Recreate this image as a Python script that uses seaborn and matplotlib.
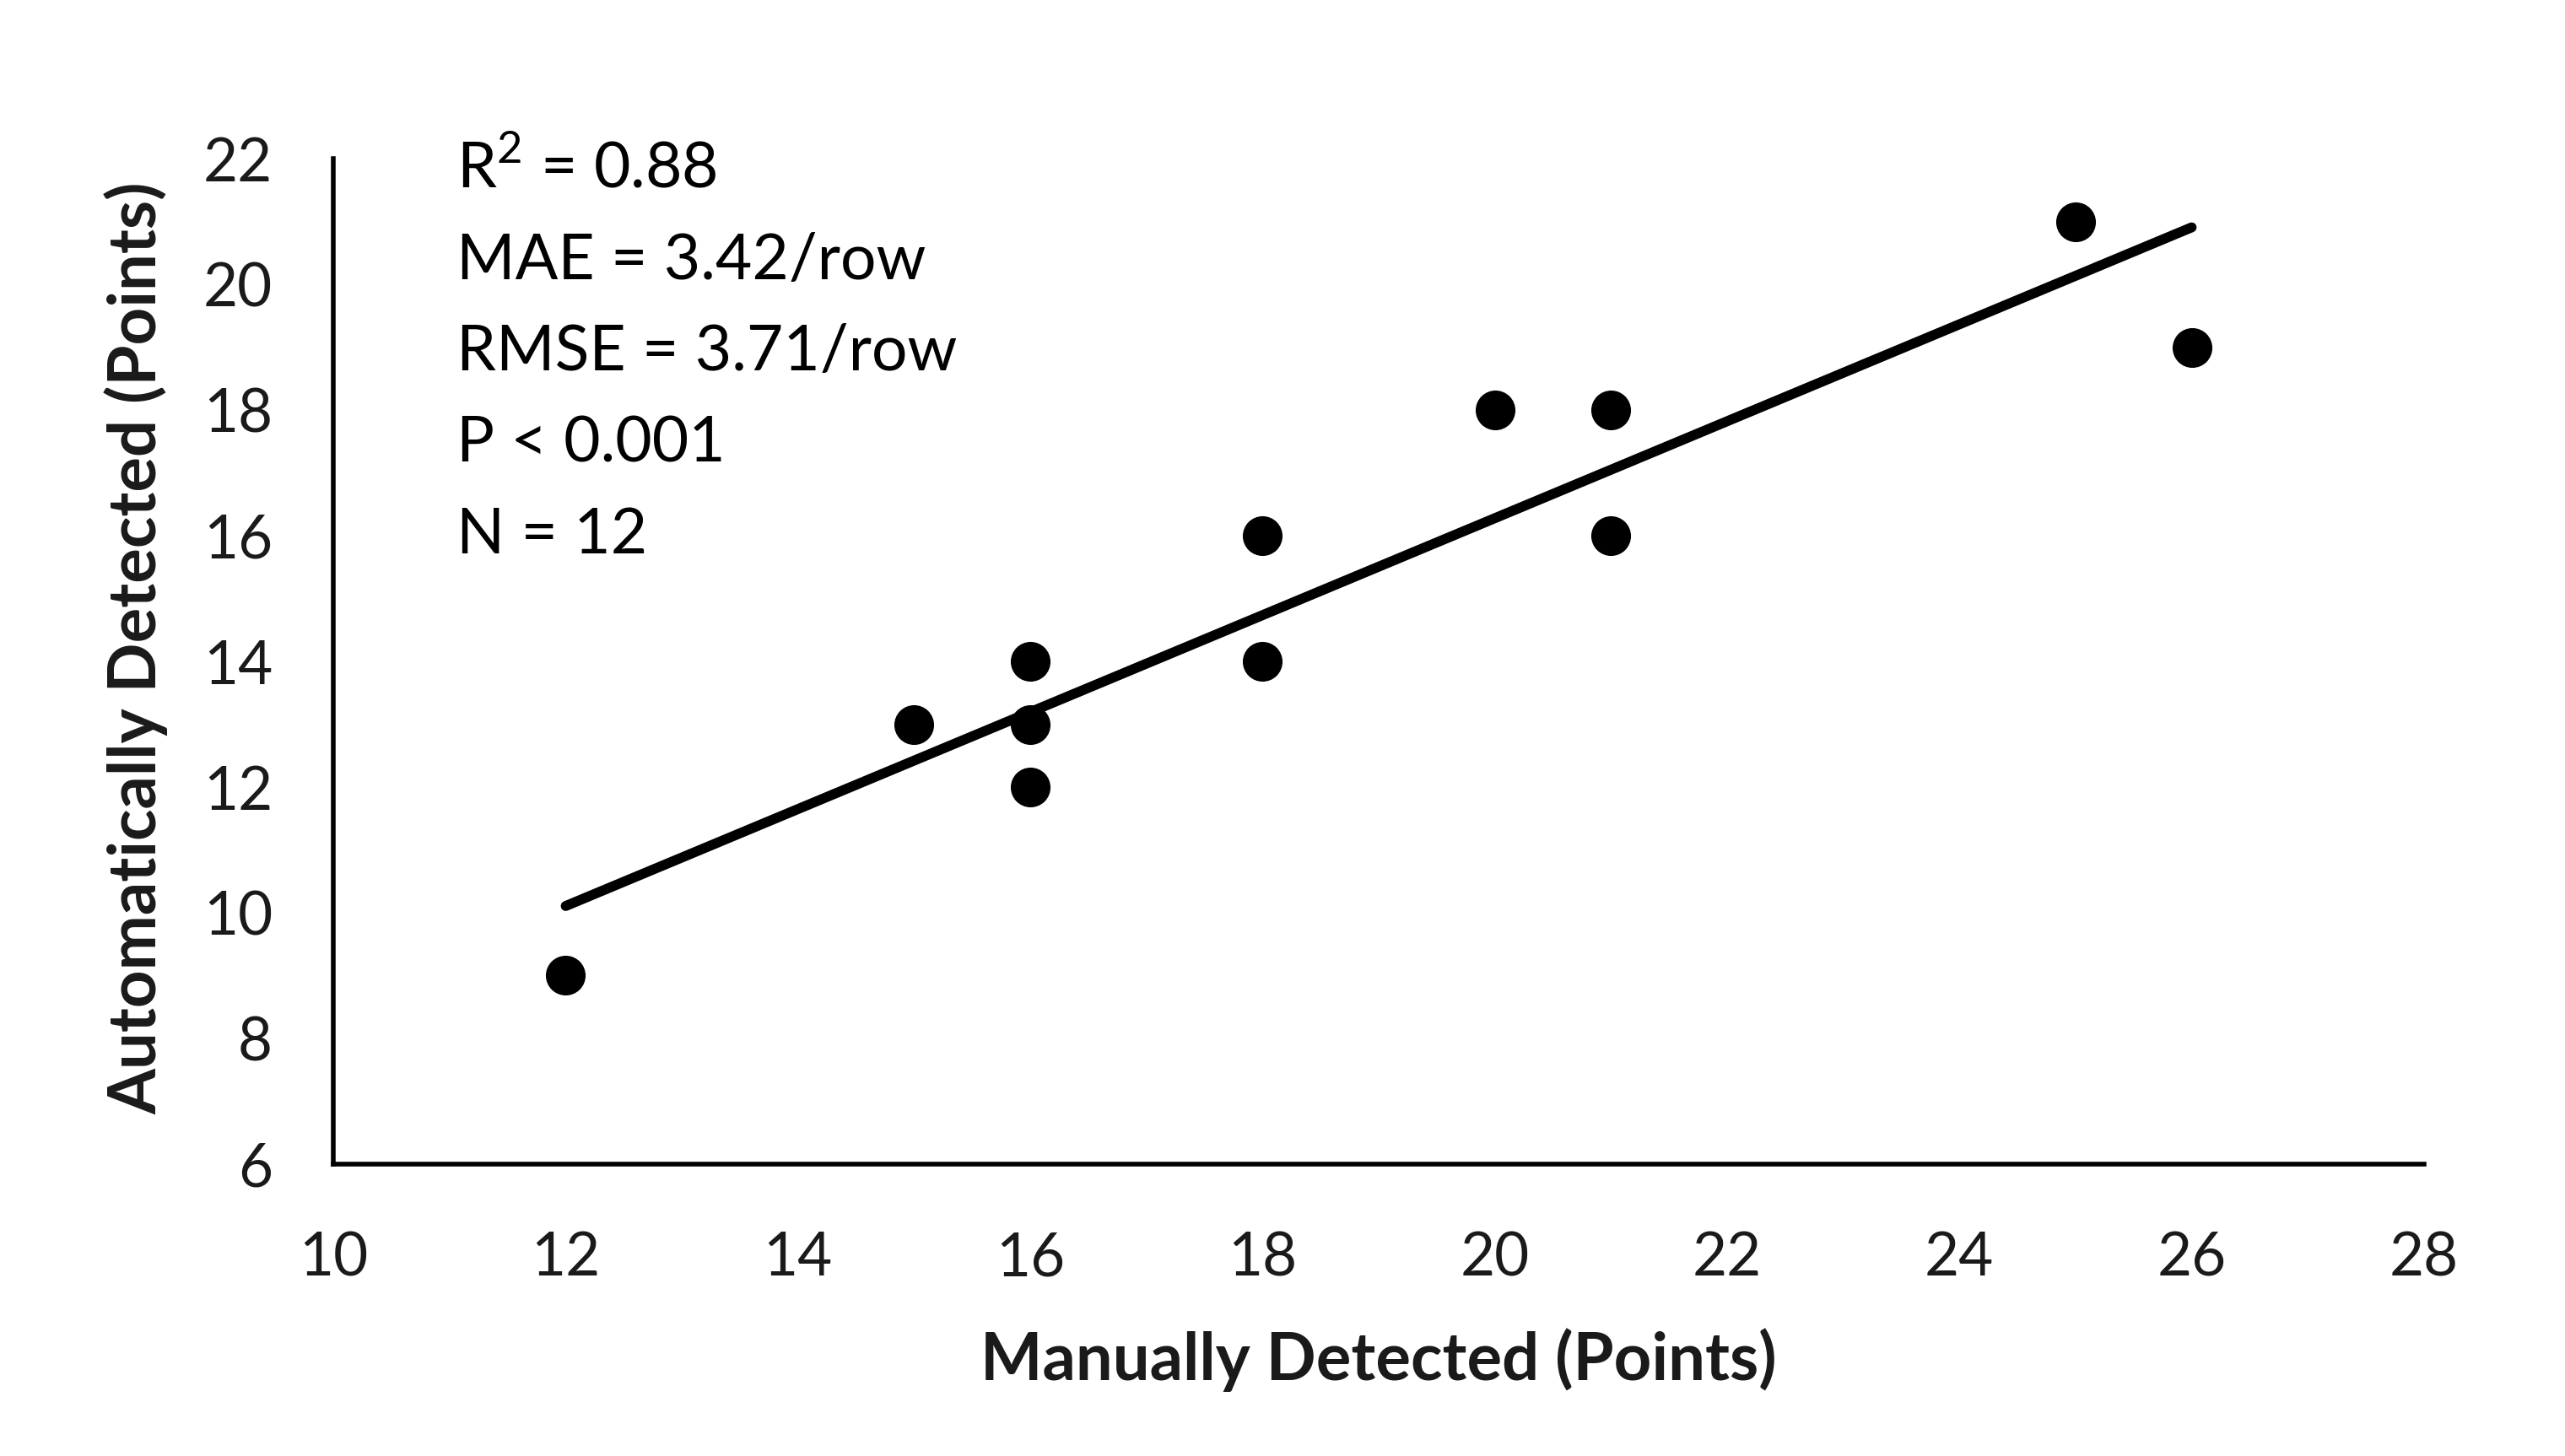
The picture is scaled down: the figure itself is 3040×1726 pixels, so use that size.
import numpy as np
import pandas as pd
import matplotlib
matplotlib.use("Agg")
import matplotlib.pyplot as plt
import seaborn as sns

# manual vs automatic point counts, one entry per row
manual = [12, 15, 16, 16, 16, 18, 18, 20, 21, 21, 25, 26]
automatic = [9, 13, 14, 13, 12, 16, 14, 18, 18, 16, 21, 19]

x_ticks = [10, 12, 14, 16, 18, 20, 22, 24, 26, 28]
y_ticks = [6, 8, 10, 12, 14, 16, 18, 20, 22]

stats_lines = ["R$^2$ = 0.88", "MAE = 3.42/row", "RMSE = 3.71/row", "P < 0.001", "N = 12"]

df = pd.DataFrame({"manual": manual, "automatic": automatic})

sns.set_style("white")
plt.rcParams['font.family'] = ['Lato', 'DejaVu Sans']
plt.rcParams['mathtext.fontset'] = 'custom'
plt.rcParams['mathtext.rm'] = 'Lato'

fig = plt.figure(figsize=(30.4, 17.26), dpi=100)
ax = fig.add_axes([0.13, 0.2005, 0.815, 0.6905])

sns.regplot(data=df, x="manual", y="automatic", ax=ax, ci=None, truncate=True,
            scatter_kws={"s": 1150, "color": "black", "alpha": 1, "linewidths": 0},
            line_kws={"color": "black", "lw": 8.5, "solid_capstyle": "round"})

ax.set_xlim(10, 28)
ax.set_ylim(6, 22)
ax.set_xticks(x_ticks)
ax.set_yticks(y_ticks)
ax.tick_params(axis="both", length=0, labelsize=51, labelcolor="#1a1a1a")
ax.tick_params(axis="x", pad=57)
ax.tick_params(axis="y", pad=52)

for side in ["top", "right"]:
    ax.spines[side].set_visible(False)
for side in ["left", "bottom"]:
    ax.spines[side].set_color("black")
    ax.spines[side].set_linewidth(4)

ax.set_xlabel("Manually Detected (Points)", fontsize=56, fontweight="bold",
              color="#1a1a1a", labelpad=36)
ax.set_ylabel("Automatically Detected (Points)", fontsize=56, fontweight="bold",
              color="#1a1a1a", labelpad=30)
ax.yaxis.label.set_y(0.513)

ax.text(0.059, 1.02, "\n".join(stats_lines), transform=ax.transAxes,
        fontsize=54, va="top", ha="left", color="black", linespacing=1.705)

fig.savefig("out.png", dpi=100, facecolor="white")
